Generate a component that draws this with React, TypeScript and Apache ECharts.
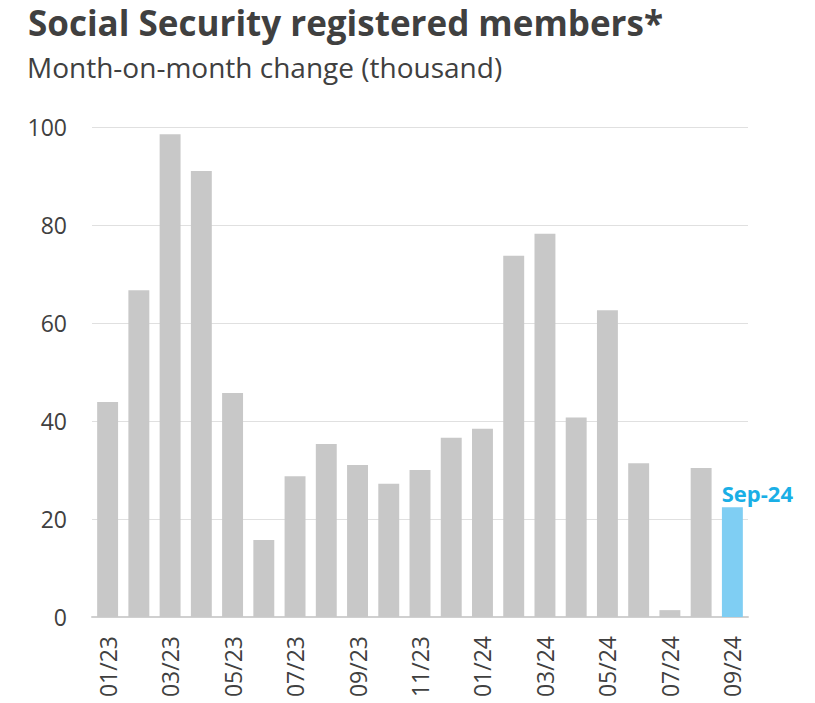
import React, { useEffect, useRef } from "react";
import * as echarts from "echarts";

const categories = ["01/23","02/23","03/23","04/23","05/23","06/23","07/23","08/23","09/23","10/23","11/23","12/23","01/24","02/24","03/24","04/24","05/24","06/24","07/24","08/24","09/24"];
const values = [43.9, 66.7, 98.5, 91.0, 45.7, 15.7, 28.7, 35.3, 31.0, 27.2, 30.0, 36.6, 38.4, 73.7, 78.2, 40.7, 62.6, 31.4, 1.4, 30.4, 22.4];
const yTicks = [0, 20, 40, 60, 80, 100];
const highlightLabel = "Sep-24";

const FONT = "'Open Sans', 'Noto Sans', sans-serif";

export default function App() {
  const ref = useRef<HTMLDivElement>(null);
  useEffect(() => {
    if (!ref.current) return;
    const chart = echarts.init(ref.current, undefined, { renderer: "svg" });
    const last = values.length - 1;
    chart.setOption({
      animation: false,
      title: [
        { text: "Social Security registered members*", left: 23, top: 0,
          textStyle: { fontFamily: FONT, fontSize: 35, fontWeight: "bold", color: "#404040" } },
        { text: "Month-on-month change (thousand)", left: 22, top: 48,
          textStyle: { fontFamily: FONT, fontSize: 28, fontWeight: "normal", color: "#404040" } },
      ],
      grid: { left: 92, right: 67, top: 127, bottom: 86 },
      xAxis: {
        type: "category",
        data: categories,
        axisLine: { lineStyle: { color: "#d0d0d0", width: 2 } },
        axisTick: { show: false },
        axisLabel: { interval: 1, rotate: 90, fontFamily: FONT, fontSize: 23, color: "#404040", margin: 19 },
      },
      yAxis: {
        type: "value",
        min: yTicks[0],
        max: yTicks[yTicks.length - 1],
        interval: 20,
        axisLine: { show: false },
        axisTick: { show: false },
        splitLine: { lineStyle: { color: "#e0e0e0", width: 1 } },
        axisLabel: { fontFamily: FONT, fontSize: 23, color: "#404040", margin: 25 },
      },
      series: [{
        type: "bar",
        barCategoryGap: "33%",
        data: values.map((v, i) => i === last ? {
          value: v,
          itemStyle: { color: "#7FCEF3" },
          label: { show: true, position: "top", formatter: highlightLabel, offset: [25, 2],
            fontFamily: FONT, fontSize: 22, fontWeight: "bold", color: "#1AAFE6" },
        } : { value: v, itemStyle: { color: "#C8C8C8" } }),
      }],
    });
    return () => chart.dispose();
  }, []);
  return <div ref={ref} style={{ width: 815, height: 703, position: "absolute", left: 0, top: 0 }} />;
}
